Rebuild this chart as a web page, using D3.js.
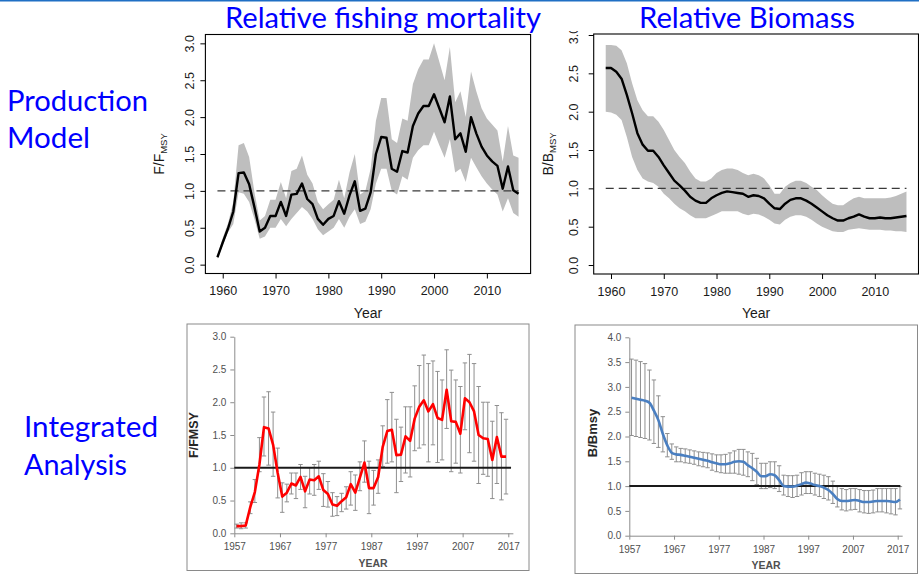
<!DOCTYPE html>
<html>
<head>
<meta charset="utf-8">
<script src="https://cdn.jsdelivr.net/npm/d3@7/dist/d3.min.js"></script>
<style>
  html, body { margin: 0; padding: 0; background: #fff; }
  svg { display: block; }
</style>
</head>
<body>
<svg id="fig" width="919" height="574"></svg>
<script>
// ---------------- Production model (1959-2016) ----------------
const pmYears = [1959,1960,1961,1962,1963,1964,1965,1966,1967,1968,
  1969,1970,1971,1972,1973,1974,1975,1976,1977,1978,
  1979,1980,1981,1982,1983,1984,1985,1986,1987,1988,
  1989,1990,1991,1992,1993,1994,1995,1996,1997,1998,
  1999,2000,2001,2002,2003,2004,2005,2006,2007,2008,
  2009,2010,2011,2012,2013,2014,2015,2016];

// F / F_MSY: estimate and 95% band
const pmF = [0.10,0.30,0.49,0.72,1.24,1.25,1.09,0.78,0.45,0.50,
  0.66,0.66,0.85,0.66,0.95,0.96,1.10,0.89,0.82,0.62,
  0.54,0.62,0.66,0.86,0.69,0.94,1.13,0.73,0.76,0.98,
  1.50,1.73,1.72,1.30,1.26,1.54,1.52,1.88,2.05,2.15,
  2.15,2.31,2.12,1.93,2.28,1.70,1.78,1.53,2.00,1.78,
  1.60,1.48,1.40,1.34,1.03,1.33,1.01,0.96];
const pmFHi = [0.12,0.36,0.56,0.85,1.62,1.65,1.46,0.98,0.60,0.66,
  0.88,0.88,1.12,0.90,1.27,1.30,1.48,1.22,1.10,0.85,
  0.75,0.82,0.88,1.15,0.90,1.25,1.50,0.95,1.00,1.30,
  1.95,2.26,2.26,1.70,1.65,1.98,1.95,2.45,2.65,2.78,
  2.78,3.00,2.75,2.50,2.95,2.20,2.35,2.00,2.62,2.35,
  2.12,1.98,1.90,1.82,1.40,1.88,1.48,1.45];
const pmFLo = [0.08,0.26,0.44,0.55,0.98,0.96,0.85,0.62,0.35,0.38,
  0.50,0.50,0.62,0.52,0.62,0.70,0.78,0.72,0.62,0.48,
  0.40,0.45,0.50,0.62,0.50,0.65,0.75,0.55,0.58,0.75,
  1.10,1.30,1.30,1.00,0.95,1.20,1.15,1.45,1.55,1.62,
  1.62,1.80,1.62,1.45,1.70,1.25,1.30,1.12,1.45,1.32,
  1.20,1.10,1.02,0.95,0.72,0.90,0.70,0.65];

// B / B_MSY: estimate and 95% band
const pmB = [2.57,2.57,2.52,2.43,2.22,1.98,1.72,1.57,1.49,1.49,
  1.41,1.30,1.20,1.10,1.04,0.97,0.89,0.84,0.81,0.81,
  0.87,0.91,0.94,0.96,0.95,0.94,0.93,0.89,0.91,0.90,
  0.87,0.80,0.74,0.73,0.80,0.85,0.87,0.87,0.84,0.80,
  0.75,0.70,0.65,0.61,0.58,0.58,0.61,0.63,0.66,0.63,
  0.61,0.61,0.62,0.61,0.61,0.62,0.63,0.64];
const pmBHi = [2.87,2.87,2.86,2.80,2.63,2.37,2.15,2.02,1.94,1.94,
  1.87,1.76,1.63,1.50,1.41,1.33,1.22,1.13,1.09,1.09,
  1.13,1.20,1.24,1.26,1.26,1.24,1.20,1.17,1.19,1.17,
  1.13,1.04,0.93,0.93,1.02,1.07,1.10,1.10,1.07,1.02,
  0.98,0.91,0.85,0.80,0.78,0.78,0.83,0.87,0.89,0.87,
  0.87,0.87,0.87,0.87,0.88,0.90,0.93,0.96];
const pmBLo = [2.00,1.99,1.96,1.89,1.67,1.41,1.24,1.13,1.09,1.07,
  1.02,0.93,0.87,0.80,0.74,0.70,0.65,0.61,0.61,0.61,
  0.64,0.67,0.70,0.70,0.70,0.70,0.67,0.65,0.67,0.66,
  0.63,0.59,0.54,0.53,0.59,0.63,0.65,0.65,0.63,0.59,
  0.54,0.50,0.47,0.44,0.43,0.43,0.46,0.47,0.48,0.47,
  0.46,0.46,0.46,0.45,0.45,0.44,0.44,0.43];

const pmXTicks = [1960,1970,1980,1990,2000,2010];
const pmYTicks = [0,0.5,1,1.5,2,2.5,3];

// ---------------- Integrated analysis ----------------
const iaFYears = [1957,1958,1959,1960,1961,1962,1963,1964,1965,1966,
  1967,1968,1969,1970,1971,1972,1973,1974,1975,1976,
  1977,1978,1979,1980,1981,1982,1983,1984,1985,1986,
  1987,1988,1989,1990,1991,1992,1993,1994,1995,1996,
  1997,1998,1999,2000,2001,2002,2003,2004,2005,2006,
  2007,2008,2009,2010,2011,2012,2013,2014,2015,2016];
const iaF = [0.11,0.11,0.12,0.40,0.63,1.05,1.62,1.60,1.35,0.92,
  0.56,0.62,0.76,0.73,0.86,0.64,0.82,0.81,0.87,0.66,
  0.60,0.44,0.42,0.49,0.55,0.75,0.62,0.85,1.08,0.69,
  0.69,0.86,1.32,1.56,1.58,1.19,1.20,1.48,1.41,1.75,
  1.93,2.03,1.86,1.97,1.76,1.73,2.19,1.71,1.70,1.52,
  2.06,2.00,1.86,1.50,1.45,1.44,1.12,1.47,1.17,1.17];
const iaFHi = [0.14,0.16,0.16,0.48,0.82,1.46,2.08,2.16,1.85,1.30,
  0.77,0.75,0.92,0.92,1.05,0.87,1.00,1.05,1.10,0.91,
  0.79,0.62,0.56,0.61,0.71,0.94,0.89,1.09,1.41,1.10,
  0.96,1.12,1.64,2.04,2.15,1.74,1.62,1.93,1.93,2.25,
  2.56,2.72,2.59,2.63,2.47,2.34,2.80,2.49,2.34,2.24,
  2.60,2.73,2.59,2.24,2.00,2.00,1.71,1.95,1.84,1.74];
const iaFLo = [0.08,0.07,0.08,0.30,0.47,0.94,1.18,1.04,0.87,0.54,
  0.32,0.48,0.60,0.53,0.67,0.39,0.60,0.58,0.67,0.41,
  0.40,0.26,0.27,0.33,0.37,0.43,0.35,0.65,0.78,0.30,
  0.43,0.61,1.02,1.07,1.09,0.62,0.79,0.92,0.86,1.26,
  1.30,1.35,1.09,1.35,1.08,1.12,1.60,0.94,1.07,0.92,
  1.58,1.23,1.10,0.76,0.90,0.87,0.53,0.76,0.51,0.60];

const iaBYears = [1957,1958,1959,1960,1961,1962,1963,1964,1965,1966,
  1967,1968,1969,1970,1971,1972,1973,1974,1975,1976,
  1977,1978,1979,1980,1981,1982,1983,1984,1985,1986,
  1987,1988,1989,1990,1991,1992,1993,1994,1995,1996,
  1997,1998,1999,2000,2001,2002,2003,2004,2005,2006,
  2007,2008,2009,2010,2011,2012,2013,2014,2015,2016,2017];
const iaB = [2.78,2.76,2.74,2.72,2.68,2.52,2.33,2.05,1.82,1.67,
  1.64,1.63,1.61,1.59,1.57,1.55,1.53,1.51,1.48,1.46,
  1.44,1.44,1.46,1.49,1.50,1.49,1.42,1.36,1.29,1.20,
  1.20,1.24,1.22,1.12,1.00,0.99,0.99,1.01,1.04,1.07,
  1.05,1.02,1.00,0.97,0.92,0.84,0.74,0.70,0.70,0.71,
  0.72,0.70,0.68,0.68,0.69,0.70,0.70,0.70,0.69,0.68,0.73];
const iaBHi = [3.56,3.54,3.51,3.47,3.34,3.14,2.82,2.40,2.06,1.85,
  1.79,1.76,1.75,1.73,1.71,1.69,1.68,1.67,1.65,1.63,
  1.63,1.64,1.67,1.71,1.74,1.74,1.69,1.66,1.56,1.46,
  1.46,1.49,1.49,1.41,1.22,1.21,1.21,1.22,1.27,1.29,
  1.29,1.26,1.24,1.22,1.19,1.10,0.99,0.95,0.93,0.95,
  0.95,0.93,0.91,0.91,0.92,0.95,0.95,0.95,0.95,0.95,0.99];
const iaBLo = [2.02,2.00,1.98,1.96,1.93,1.86,1.78,1.69,1.59,1.54,
  1.49,1.49,1.47,1.46,1.44,1.41,1.39,1.37,1.32,1.29,
  1.27,1.26,1.26,1.26,1.24,1.22,1.19,1.11,1.03,0.95,
  0.95,0.97,0.95,0.89,0.82,0.79,0.77,0.79,0.82,0.85,
  0.85,0.82,0.79,0.75,0.72,0.65,0.58,0.52,0.50,0.52,
  0.53,0.48,0.46,0.45,0.46,0.48,0.48,0.46,0.44,0.42,0.54];

const iaXTicks = [1957,1967,1977,1987,1997,2007,2017];
const iaFYTicks = [0,0.5,1,1.5,2,2.5,3];
const iaBYTicks = [0,0.5,1,1.5,2,2.5,3,3.5,4];

// ---------------- drawing ----------------
const svg = d3.select("#fig");
const SLIDE_BLUE = "#0000ff";
const SLIDE_FONT = "Lato, 'Open Sans', sans-serif";
const R_FONT = "'Liberation Sans', Arial, sans-serif";
const XL_FONT = "'Liberation Sans', Arial, sans-serif";

svg.append("rect").attr("width", 919).attr("height", 574).attr("fill", "#fff");
// thin rule along the top of the slide
svg.append("line").attr("x1", 0).attr("x2", 919).attr("y1", 0.8).attr("y2", 0.8)
  .attr("stroke", "#1f6fc4").attr("stroke-width", 1.6);

function slideText(str, x, y, len) {
  svg.append("text").attr("x", x).attr("y", y)
    .attr("font-family", SLIDE_FONT).attr("font-size", 29)
    .attr("fill", SLIDE_BLUE)
    .attr("textLength", len).attr("lengthAdjust", "spacingAndGlyphs")
    .text(str);
}
slideText("Relative fishing mortality", 225, 28, 316);
slideText("Relative Biomass", 639, 28, 216);
slideText("Production", 7, 111, 141);
slideText("Model", 7, 148, 83);
slideText("Integrated", 24, 437, 134);
slideText("Analysis", 24, 475, 103);

// R-style panel: grey confidence band, black estimate, dashed reference at 1
function rPanel(o) {
  const g = svg.append("g");
  if (o.clipTop != null) {
    const id = "clip" + o.id;
    svg.append("clipPath").attr("id", id).append("rect")
      .attr("x", 0).attr("y", o.clipTop).attr("width", 919).attr("height", 574);
    g.attr("clip-path", `url(#${id})`);
  }
  const x = d3.scaleLinear().domain([1956.72, 2018.28]).range([o.box.x0, o.box.x1]);
  const y = d3.scaleLinear().domain(o.yDomain).range([o.box.y1, o.box.y0]);
  const rows = o.years.map((yr, i) => ({ yr, v: o.mid[i], lo: o.lo[i], hi: o.hi[i] }));

  g.append("path").datum(rows)
    .attr("d", d3.area().x(d => x(d.yr)).y0(d => y(d.lo)).y1(d => y(d.hi)))
    .attr("fill", "#bebebe");
  g.append("line")
    .attr("x1", x(o.years[0])).attr("x2", x(o.years[o.years.length - 1]))
    .attr("y1", y(1)).attr("y2", y(1))
    .attr("stroke", "#3a3a3a").attr("stroke-width", 1.3).attr("stroke-dasharray", "8,5");
  g.append("path").datum(rows)
    .attr("d", d3.line().x(d => x(d.yr)).y(d => y(d.v)))
    .attr("fill", "none").attr("stroke", "#000").attr("stroke-width", 2.4)
    .attr("stroke-linejoin", "round");
  g.append("rect")
    .attr("x", o.box.x0).attr("y", o.box.y0)
    .attr("width", o.box.x1 - o.box.x0).attr("height", o.box.y1 - o.box.y0)
    .attr("fill", "none").attr("stroke", "#000").attr("stroke-width", 1.1);

  const xa = g.append("g").attr("transform", `translate(0,${o.box.y1})`)
    .call(d3.axisBottom(x).tickValues(pmXTicks).tickFormat(d3.format("d"))
      .tickSize(5).tickPadding(8));
  xa.select(".domain").remove();
  xa.selectAll("line").attr("stroke", "#000");
  xa.selectAll("text").attr("font-family", R_FONT).attr("font-size", 12.5).attr("fill", "#1a1a1a");

  const ya = g.append("g").attr("transform", `translate(${o.box.x0},0)`)
    .call(d3.axisLeft(y).tickValues(pmYTicks).tickFormat(d3.format(".1f")).tickSize(5));
  ya.select(".domain").remove();
  ya.selectAll("line").attr("stroke", "#000");
  ya.selectAll("text")
    .attr("font-family", R_FONT).attr("font-size", 12.5).attr("fill", "#1a1a1a")
    .attr("transform", "rotate(-90)")
    .attr("x", 0).attr("y", -o.yLabGap).attr("dy", null)
    .attr("text-anchor", "middle");

  g.append("text")
    .attr("x", (o.box.x0 + o.box.x1) / 2).attr("y", 318)
    .attr("text-anchor", "middle")
    .attr("font-family", R_FONT).attr("font-size", 14).attr("fill", "#1a1a1a")
    .text("Year");

  const yt = g.append("text")
    .attr("transform", `translate(${o.titleX},${(o.box.y0 + o.box.y1) / 2}) rotate(-90)`)
    .attr("text-anchor", "middle")
    .attr("font-family", R_FONT).attr("font-size", 14).attr("fill", "#1a1a1a");
  yt.append("tspan").text(o.yTitle[0]);
  yt.append("tspan").attr("font-size", 9.5).attr("dy", 3).text(o.yTitle[1]);
}

rPanel({
  id: "pmF", box: { x0: 205.4, x1: 530.6, y0: 34.5, y1: 273.5 },
  yDomain: [-0.12, 3.12], years: pmYears, mid: pmF, lo: pmFLo, hi: pmFHi,
  yLabGap: 11, titleX: 164, yTitle: ["F/F", "MSY"]
});
rPanel({
  id: "pmB", box: { x0: 593.7, x1: 918.5, y0: 34, y1: 274 }, clipTop: 31,
  yDomain: [-0.117, 3.013], years: pmYears, mid: pmB, lo: pmBLo, hi: pmBHi,
  yLabGap: 15.5, titleX: 553, yTitle: ["B/B", "MSY"]
});

// Spreadsheet-style panel: bordered frame, error bars, coloured estimate, solid line at 1
function xlPanel(o) {
  const g = svg.append("g");
  g.append("rect")
    .attr("x", o.frame.x0).attr("y", o.frame.y0)
    .attr("width", o.frame.x1 - o.frame.x0).attr("height", o.frame.y1 - o.frame.y0)
    .attr("fill", "#fff").attr("stroke", "#8a8a8a").attr("stroke-width", 1);

  // axis runs from 1957 to the end of the last category
  const x = d3.scaleLinear().domain([1957, 2018]).range([o.x0, o.x0 + (o.x2017 - o.x0) * 61 / 60]);
  const y = d3.scaleLinear().domain([0, o.yMax]).range([o.y0, o.yTop]);
  // each annual value sits in the middle of its category slot
  const cx = yr => x(yr + 0.5);
  const rows = o.years.map((yr, i) => ({ yr, v: o.mid[i], lo: o.lo[i], hi: o.hi[i] }));

  const ya = g.append("g").attr("transform", `translate(${o.x0},0)`)
    .call(d3.axisLeft(y).tickValues(o.yTicks).tickFormat(d3.format(".1f"))
      .tickSize(4).tickSizeOuter(0).tickPadding(4));
  ya.select(".domain").attr("stroke", "#8c8c8c");
  ya.selectAll("line").attr("stroke", "#8c8c8c");
  ya.selectAll("text").attr("font-family", XL_FONT).attr("font-size", 10).attr("fill", "#505050");

  const xa = g.append("g").attr("transform", `translate(0,${o.y0})`)
    .call(d3.axisBottom(x).tickValues(iaXTicks).tickFormat(d3.format("d"))
      .tickSize(4).tickSizeOuter(0).tickPadding(6));
  xa.select(".domain").attr("stroke", "#8c8c8c");
  xa.selectAll("line").attr("stroke", "#8c8c8c");
  xa.selectAll("text").attr("font-family", XL_FONT).attr("font-size", 10).attr("fill", "#505050");

  // error bars with caps
  const eb = g.append("g").attr("stroke", "#8f8f8f").attr("stroke-width", 1);
  eb.selectAll("line.v").data(rows).join("line").attr("class", "v")
    .attr("x1", d => cx(d.yr)).attr("x2", d => cx(d.yr))
    .attr("y1", d => y(d.lo)).attr("y2", d => y(d.hi));
  eb.selectAll("line.t").data(rows).join("line").attr("class", "t")
    .attr("x1", d => cx(d.yr) - 2.2).attr("x2", d => cx(d.yr) + 2.2)
    .attr("y1", d => y(d.hi)).attr("y2", d => y(d.hi));
  eb.selectAll("line.b").data(rows).join("line").attr("class", "b")
    .attr("x1", d => cx(d.yr) - 2.2).attr("x2", d => cx(d.yr) + 2.2)
    .attr("y1", d => y(d.lo)).attr("y2", d => y(d.lo));

  // reference line at 1
  g.append("line")
    .attr("x1", x(1957)).attr("x2", x(2017.6))
    .attr("y1", y(1)).attr("y2", y(1))
    .attr("stroke", "#1a1a1a").attr("stroke-width", 2);

  g.append("path").datum(rows)
    .attr("d", d3.line().x(d => cx(d.yr)).y(d => y(d.v)).curve(o.curve))
    .attr("fill", "none").attr("stroke", o.color).attr("stroke-width", 2.6)
    .attr("stroke-linejoin", "round");

  g.append("text")
    .attr("x", o.yearX).attr("y", o.yearY).attr("text-anchor", "middle")
    .attr("font-family", XL_FONT).attr("font-size", 10.5).attr("font-weight", "bold")
    .attr("fill", "#505050").text("YEAR");
  g.append("text")
    .attr("transform", `translate(${o.titleX},${o.titleY}) rotate(-90)`)
    .attr("text-anchor", "middle")
    .attr("font-family", XL_FONT).attr("font-size", o.titleSize).attr("font-weight", "bold")
    .attr("fill", "#262626").text(o.title);
}

xlPanel({
  frame: { x0: 187, y0: 324, x1: 529, y1: 570.5 },
  x0: 234.3, x2017: 508.3, y0: 533.3, yTop: 336.7, yMax: 3,
  yTicks: iaFYTicks, years: iaFYears, mid: iaF, lo: iaFLo, hi: iaFHi,
  color: "#ff0000", curve: d3.curveLinear,
  yearX: 373, yearY: 566.5, titleX: 197.5, titleY: 435, titleSize: 12.5, title: "F/FMSY"
});
xlPanel({
  frame: { x0: 575, y0: 325, x1: 917.5, y1: 573.5 },
  x0: 629.3, x2017: 897.7, y0: 535.7, yTop: 337.3, yMax: 4,
  yTicks: iaBYTicks, years: iaBYears, mid: iaB, lo: iaBLo, hi: iaBHi,
  color: "#4a7fc1", curve: d3.curveMonotoneX,
  yearX: 766, yearY: 569, titleX: 597, titleY: 433, titleSize: 13, title: "B/Bmsy"
});
</script>
</body>
</html>
